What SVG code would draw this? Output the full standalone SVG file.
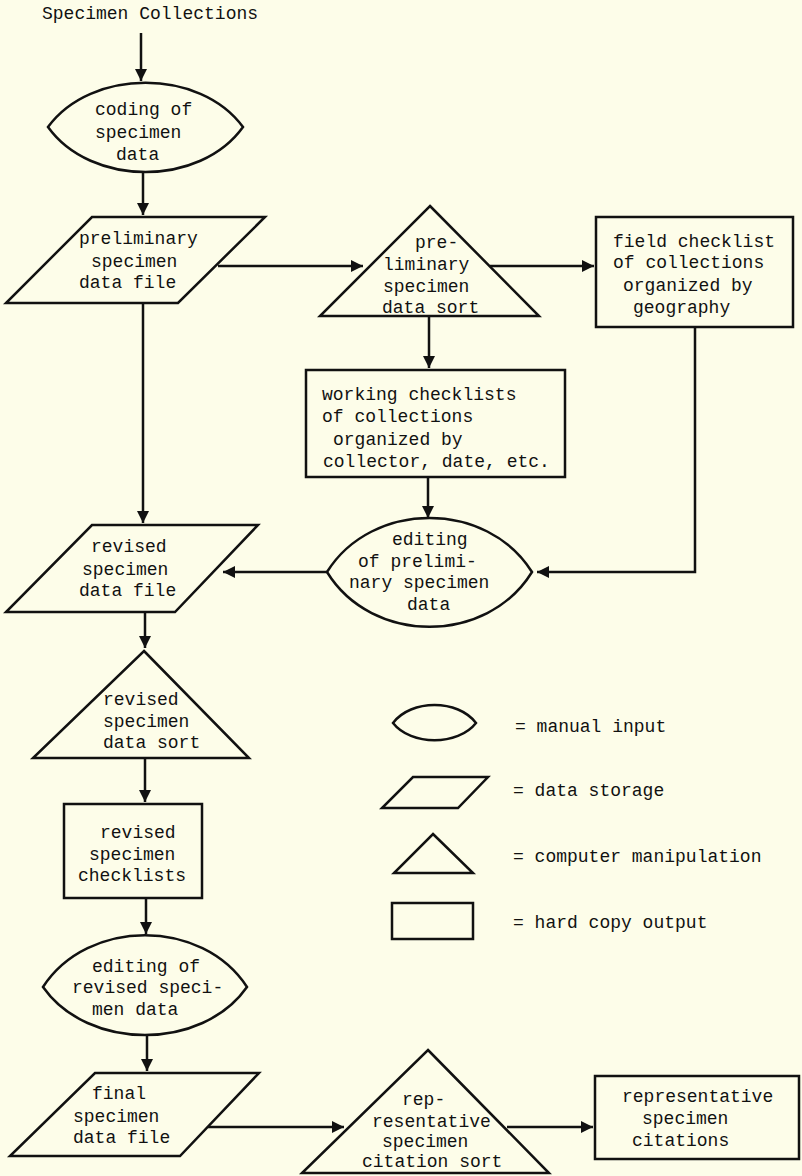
<svg xmlns="http://www.w3.org/2000/svg" width="802" height="1176" viewBox="0 0 802 1176">
<defs>
<style>
.s{fill:none;stroke:#111;stroke-width:2.5;stroke-linejoin:miter}
.c{fill:none;stroke:#111;stroke-width:2.5}
text{font-family:"Liberation Mono","Courier New",monospace;font-size:18px;fill:#111}
</style>
<marker id="ah" markerUnits="userSpaceOnUse" markerWidth="13" markerHeight="13" refX="12" refY="6" orient="auto">
<path d="M0,0 L12,6 L0,12 z" fill="#111"/>
</marker>
</defs>
<rect x="0" y="0" width="802" height="1176" fill="#fdfde9"/>

<g id="title"><text x="42" y="19">Specimen Collections</text></g>

<g id="coding">
<path class="s" d="M48,127 C91,68 200,68 243,127 C200,187 91,187 48,127 z"/>
<text x="95" y="115">coding of</text>
<text x="95" y="138">specimen</text>
<text x="116" y="160">data</text>
</g>

<g id="prelim-file">
<path class="s" d="M92,217 L265,217 L178,303 L6,303 z"/>
<text x="79" y="244">preliminary</text>
<text x="91" y="267">specimen</text>
<text x="79" y="288">data file</text>
</g>

<g id="prelim-sort">
<path class="s" d="M430,206 L539,316 L320,316 z"/>
<text x="415" y="248">pre-</text>
<text x="383" y="270">liminary</text>
<text x="383" y="292">specimen</text>
<text x="382" y="313">data sort</text>
</g>

<g id="field-checklist">
<rect class="s" x="596" y="217" width="197" height="110"/>
<text x="613" y="247">field checklist</text>
<text x="613" y="268">of collections</text>
<text x="623" y="291">organized by</text>
<text x="633" y="313">geography</text>
</g>

<g id="working-checklists">
<rect class="s" x="306" y="370" width="259" height="107"/>
<text x="322" y="400">working checklists</text>
<text x="322" y="422">of collections</text>
<text x="333" y="445">organized by</text>
<text x="323" y="467">collector, date, etc.</text>
</g>

<g id="editing-prelim">
<path class="s" d="M327,572 C372,500 487,500 532,572 C487,645 372,645 327,572 z"/>
<text x="392" y="545">editing</text>
<text x="358" y="567">of prelimi-</text>
<text x="349" y="588">nary specimen</text>
<text x="407" y="610">data</text>
</g>

<g id="revised-file">
<path class="s" d="M92,525 L258,525 L175,612 L6,612 z"/>
<text x="91" y="552">revised</text>
<text x="82" y="575">specimen</text>
<text x="79" y="596">data file</text>
</g>

<g id="revised-sort">
<path class="s" d="M144,651 L249,758 L33,758 z"/>
<text x="103" y="705">revised</text>
<text x="103" y="727">specimen</text>
<text x="103" y="748">data sort</text>
</g>

<g id="revised-checklists">
<rect class="s" x="64" y="804" width="138" height="94"/>
<text x="100" y="838">revised</text>
<text x="89" y="860">specimen</text>
<text x="78" y="881">checklists</text>
</g>

<g id="editing-revised">
<path class="s" d="M43,987 C88,918 202,918 247,987 C202,1051 88,1051 43,987 z"/>
<text x="92" y="972">editing of</text>
<text x="72" y="993">revised speci-</text>
<text x="92" y="1015">men data</text>
</g>

<g id="final-file">
<path class="s" d="M95,1073 L259,1073 L180,1156 L10,1156 z"/>
<text x="92" y="1099">final</text>
<text x="73" y="1122">specimen</text>
<text x="73" y="1143">data file</text>
</g>

<g id="rep-sort">
<path class="s" d="M428,1050 L549,1173 L302,1173 z"/>
<text x="402" y="1105">rep-</text>
<text x="372" y="1127">resentative</text>
<text x="382" y="1147">specimen</text>
<text x="362" y="1167">citation sort</text>
</g>

<g id="rep-citations">
<rect class="s" x="595" y="1076" width="204" height="83"/>
<text x="622" y="1102">representative</text>
<text x="642" y="1124">specimen</text>
<text x="632" y="1146">citations</text>
</g>

<g id="legend">
<path class="s" d="M393,723 C411,699 458,699 476,723 C458,746 411,746 393,723 z"/>
<text x="515" y="732">= manual input</text>
<path class="s" d="M413,777 L488,777 L458,808 L382,808 z"/>
<text x="513" y="796">= data storage</text>
<path class="s" d="M433,834 L473,873 L394,873 z"/>
<text x="513" y="862">= computer manipulation</text>
<rect class="s" x="392" y="903" width="81" height="36"/>
<text x="513" y="928">= hard copy output</text>
</g>

<g id="connectors">
<line class="c" x1="141" y1="33" x2="141" y2="81" marker-end="url(#ah)"/>
<line class="c" x1="143" y1="172" x2="143" y2="215" marker-end="url(#ah)"/>
<line class="c" x1="218" y1="266" x2="363" y2="266" marker-end="url(#ah)"/>
<line class="c" x1="490" y1="266" x2="594" y2="266" marker-end="url(#ah)"/>
<line class="c" x1="429" y1="316" x2="429" y2="368" marker-end="url(#ah)"/>
<polyline class="c" points="695,327 695,572 537,572" marker-end="url(#ah)"/>
<line class="c" x1="428" y1="477" x2="428" y2="518" marker-end="url(#ah)"/>
<line class="c" x1="327" y1="572" x2="223" y2="572" marker-end="url(#ah)"/>
<line class="c" x1="143" y1="303" x2="143" y2="523" marker-end="url(#ah)"/>
<line class="c" x1="145" y1="612" x2="145" y2="648" marker-end="url(#ah)"/>
<line class="c" x1="145" y1="758" x2="145" y2="802" marker-end="url(#ah)"/>
<line class="c" x1="146" y1="898" x2="146" y2="934" marker-end="url(#ah)"/>
<line class="c" x1="147" y1="1035" x2="147" y2="1071" marker-end="url(#ah)"/>
<line class="c" x1="208" y1="1127" x2="344" y2="1127" marker-end="url(#ah)"/>
<line class="c" x1="507" y1="1127" x2="593" y2="1127" marker-end="url(#ah)"/>
</g>
</svg>
